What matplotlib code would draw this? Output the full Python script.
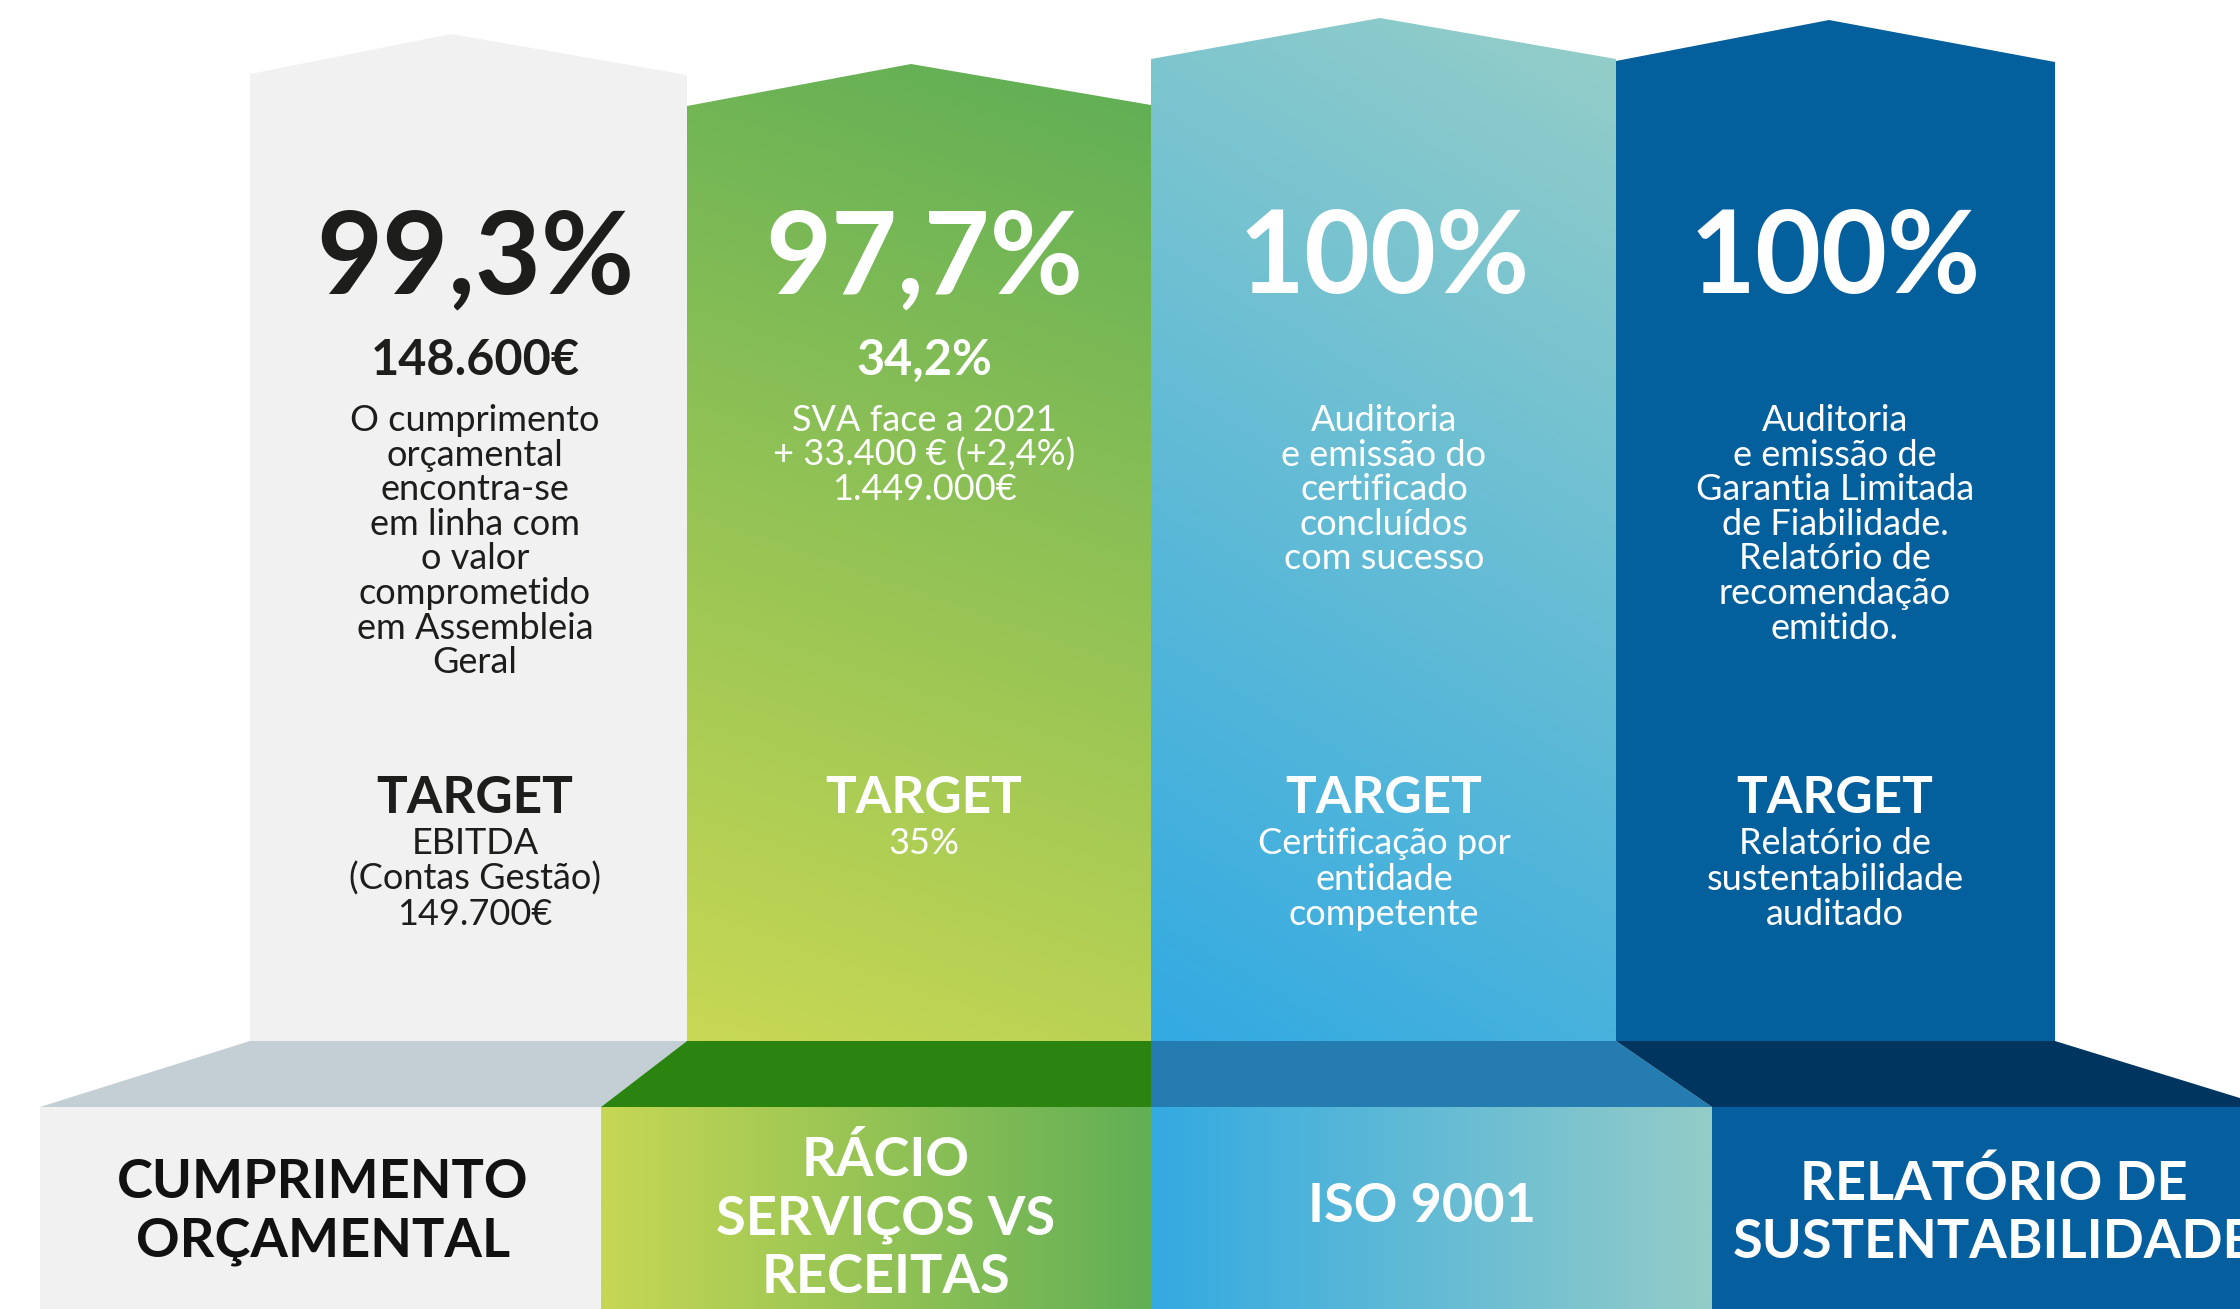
import numpy as np
import matplotlib.pyplot as plt
from matplotlib.patches import Polygon
from matplotlib.colors import LinearSegmentedColormap

plt.rcParams['font.family'] = ['Lato', 'DejaVu Sans']

# --- content ---
headline = ['99,3%', '97,7%', '100%', '100%']
subvalue = ['148.600€', '34,2%', '', '']
descr = [
    'O cumprimento\norçamental\nencontra-se\nem linha com\no valor\ncomprometido\nem Assembleia\nGeral',
    'SVA face a 2021\n+ 33.400 € (+2,4%)\n1.449.000€',
    'Auditoria\ne emissão do\ncertificado\nconcluídos\ncom sucesso',
    'Auditoria\ne emissão de\nGarantia Limitada\nde Fiabilidade.\nRelatório de\nrecomendação\nemitido.',
]
target = ['EBITDA\n(Contas Gestão)\n149.700€', '35%',
          'Certificação por\nentidade\ncompetente',
          'Relatório de\nsustentabilidade\nauditado']
labels = ['CUMPRIMENTO\nORÇAMENTAL', 'RÁCIO\nSERVIÇOS VS\nRECEITAS',
          'ISO 9001', 'RELATÓRIO DE\nSUSTENTABILIDADE']

# --- layout (pixel coords, y downwards) ---
W, H = 2240, 1309
col_x = [250, 687, 1151, 1616, 2055]
shoulder_y = [(74, 75), (106, 105), (59, 59), (61, 62)]
peak = [(451, 34), (911, 64), (1380, 18), (1829, 20)]
body_bottom = 1041
base_top = 1107
base_x = [40, 601, 1151, 1712, 2269]
cx = [475, 924, 1384, 1835]
label_x = [323, 886, 1422, 1994]
label_y0 = [1198, 1176, 1222, 1200]

ink = ['#1d1d1b', 'white', 'white', 'white']
label_ink = ['#111111', 'white', 'white', 'white']

fig = plt.figure(figsize=(W / 100, H / 100), dpi=100)
ax = fig.add_axes([0, 0, 1, 1])
ax.axis('off')


def fill(xy, color):
    ax.add_patch(Polygon(xy, closed=True, facecolor=color, edgecolor='none'))


def gradient(xy, c0, c1, direction):
    patch = Polygon(xy, closed=True, facecolor='none', edgecolor='none')
    ax.add_patch(patch)
    xs = [p[0] for p in xy]
    ys = [p[1] for p in xy]
    x0, x1, y0, y1 = min(xs), max(xs), min(ys), max(ys)
    gx, gy = np.meshgrid(np.linspace(x0, x1, 200), np.linspace(y0, y1, 200))
    t = gx * direction[0] + gy * direction[1]
    t = (t - t.min()) / (t.max() - t.min())
    cmap = LinearSegmentedColormap.from_list('g', [c0, c1])
    im = ax.imshow(t, cmap=cmap, extent=(x0, x1, y1, y0), origin='upper',
                   aspect='auto', interpolation='bilinear')
    im.set_clip_path(patch)


def column_poly(i):
    xl, xr = col_x[i], col_x[i + 1]
    return [(xl, body_bottom), (xl, shoulder_y[i][0]), peak[i],
            (xr, shoulder_y[i][1]), (xr, body_bottom)]


# columns
fill(column_poly(0), '#f1f1f1')
gradient(column_poly(1), '#5fae56', '#c8d854', (-0.35, 1))
gradient(column_poly(2), '#96cec8', '#32aae2', (-0.6, 1))
fill(column_poly(3), '#045f9d')

# slanted plinth tops
trap_colors = ['#c3ced5', '#2c8410', '#247cb1', '#00355f']
for i in range(4):
    fill([(col_x[i], body_bottom), (col_x[i + 1], body_bottom),
          (base_x[i + 1], base_top), (base_x[i], base_top)], trap_colors[i])

# plinth fronts
def box(i):
    return [(base_x[i], base_top), (base_x[i + 1], base_top),
            (base_x[i + 1], H), (base_x[i], H)]

fill(box(0), '#f1f1f1')
gradient(box(1), '#c6d754', '#62af56', (1, 0))
gradient(box(2), '#33aae1', '#94ccc8', (1, 0))
fill(box(3), '#055f9e')


def lines(x, y0, text, step, **kw):
    for k, s in enumerate(text.split('\n')):
        ax.text(x, y0 + k * step, s, ha='center', va='baseline', **kw)


for i in range(4):
    lines(cx[i], 293, headline[i], 0, fontsize=82, fontweight='bold', color=ink[i])
    if subvalue[i]:
        lines(cx[i], 375, subvalue[i], 0, fontsize=35, fontweight='bold', color=ink[i])
    lines(cx[i], 431, descr[i], 34.6, fontsize=26, fontweight='normal', color=ink[i])
    lines(cx[i], 813, 'TARGET', 0, fontsize=37, fontweight='bold', color=ink[i])
    lines(cx[i], 854, target[i], 35.5, fontsize=26, fontweight='normal', color=ink[i])
    lines(label_x[i], label_y0[i], labels[i], 58.5, fontsize=39,
          fontweight='bold', color=label_ink[i])

ax.set_xlim(0, W)
ax.set_ylim(H, 0)
fig.savefig('out.png', dpi=100, facecolor='white')
